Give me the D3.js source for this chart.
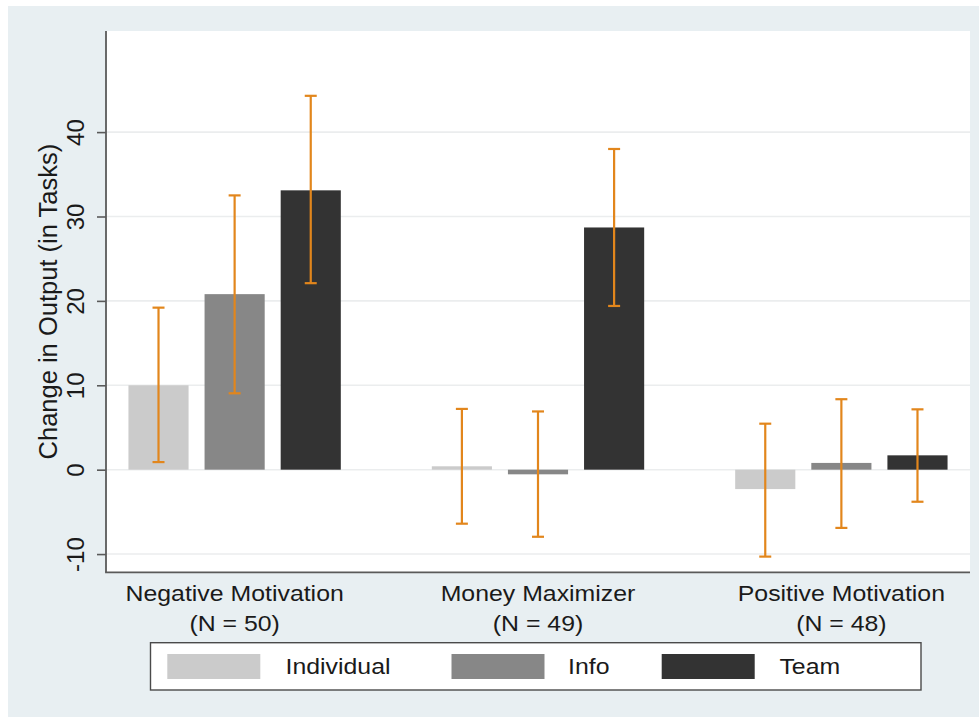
<!DOCTYPE html>
<html>
<head>
<meta charset="utf-8">
<script src="https://cdn.jsdelivr.net/npm/d3@7"></script>
<style>
  html, body { margin: 0; padding: 0; background: #ffffff; }
  svg { display: block; }
  text { font-family: "Liberation Sans", Arial, Helvetica, sans-serif; fill: #1a1a1a; }
</style>
</head>
<body>
<svg id="chart" width="979" height="718"></svg>
<script>
// Motivation types (x groups) and their sample sizes
const categories = ["Negative Motivation", "Money Maximizer", "Positive Motivation"];
const sampleSizes = ["(N = 50)", "(N = 49)", "(N = 48)"];

// Treatments shown as bars inside each group
const series = ["Individual", "Info", "Team"];

// Mean change in output, per treatment, in category order
const individualMean = [10.0, 0.4, -2.3];
const infoMean       = [20.8, -0.55, 0.8];
const teamMean       = [33.1, 28.7, 1.7];

// Confidence interval bounds (low, high) per treatment, in category order
const individualLow  = [0.9, -6.4, -10.3];
const individualHigh = [19.2, 7.2, 5.45];
const infoLow        = [9.05, -7.95, -6.9];
const infoHigh       = [32.5, 6.9, 8.35];
const teamLow        = [22.1, 19.4, -3.8];
const teamHigh       = [44.3, 38.0, 7.15];

// Y axis
const yTicks = [-10, 0, 10, 20, 30, 40];
const yDomain = [-12.16, 51.98];
const yTitle = "Change in Output (in Tasks)";

const means = { Individual: individualMean, Info: infoMean, Team: teamMean };
const lows  = { Individual: individualLow,  Info: infoLow,  Team: teamLow };
const highs = { Individual: individualHigh, Info: infoHigh, Team: teamHigh };

const colors = { Individual: "#cbcbcb", Info: "#878787", Team: "#333333" };
const errColor = "#e2861c";

const rows = [];
categories.forEach((c, i) => {
  series.forEach(s => {
    rows.push({ cat: c, ser: s, mean: means[s][i], lo: lows[s][i], hi: highs[s][i] });
  });
});

const svg = d3.select("#chart");

// Plot box
const plot = { left: 106, right: 970, top: 31, bottom: 572.3 };

// Outer panel background
svg.append("rect")
  .attr("x", 8).attr("y", 6).attr("width", 971).attr("height", 711)
  .attr("fill", "#e8eff2");

// Plot region
svg.append("rect")
  .attr("x", plot.left).attr("y", plot.top)
  .attr("width", plot.right - plot.left).attr("height", plot.bottom - plot.top)
  .attr("fill", "#ffffff");

const y = d3.scaleLinear().domain(yDomain).range([plot.bottom, plot.top]);

const x0 = d3.scaleBand()
  .domain(categories)
  .range([plot.left, plot.right])
  .paddingInner(0.3)
  .paddingOuter(0.074);

const x1 = d3.scaleBand()
  .domain(series)
  .range([0, x0.bandwidth()])
  .paddingInner(0.21)
  .paddingOuter(0);

// Horizontal grid lines
svg.append("g")
  .selectAll("line")
  .data(yTicks)
  .join("line")
  .attr("x1", plot.left).attr("x2", plot.right)
  .attr("y1", d => y(d)).attr("y2", d => y(d))
  .attr("stroke", "#ebedee")
  .attr("stroke-width", 1.6);

// Bars
svg.append("g")
  .selectAll("rect")
  .data(rows)
  .join("rect")
  .attr("x", d => x0(d.cat) + x1(d.ser))
  .attr("width", x1.bandwidth())
  .attr("y", d => y(Math.max(0, d.mean)))
  .attr("height", d => Math.abs(y(d.mean) - y(0)))
  .attr("fill", d => colors[d.ser]);

// Error bars
const capHalf = 6;
const eb = svg.append("g")
  .attr("stroke", errColor)
  .attr("stroke-width", 2.2)
  .attr("fill", "none");

const cx = d => x0(d.cat) + x1(d.ser) + x1.bandwidth() / 2;

eb.selectAll("line.stem")
  .data(rows)
  .join("line")
  .attr("class", "stem")
  .attr("x1", cx).attr("x2", cx)
  .attr("y1", d => y(d.lo)).attr("y2", d => y(d.hi));

eb.selectAll("line.capHi")
  .data(rows)
  .join("line")
  .attr("class", "capHi")
  .attr("x1", d => cx(d) - capHalf).attr("x2", d => cx(d) + capHalf)
  .attr("y1", d => y(d.hi)).attr("y2", d => y(d.hi));

eb.selectAll("line.capLo")
  .data(rows)
  .join("line")
  .attr("class", "capLo")
  .attr("x1", d => cx(d) - capHalf).attr("x2", d => cx(d) + capHalf)
  .attr("y1", d => y(d.lo)).attr("y2", d => y(d.lo));

// Y axis with vertical tick labels (plain hyphen for negatives)
const yAxis = svg.append("g")
  .attr("transform", `translate(${plot.left},0)`)
  .call(d3.axisLeft(y).tickValues(yTicks).tickSize(9).tickSizeOuter(0).tickFormat(d => String(d)));

yAxis.select(".domain").remove();
yAxis.selectAll(".tick line").attr("stroke", "#5a5a5a").attr("stroke-width", 1.6);
yAxis.selectAll(".tick text")
  .attr("transform", "rotate(-90)")
  .attr("x", 0)
  .attr("y", -22.5)
  .attr("dy", 0)
  .attr("text-anchor", "middle")
  .style("font-size", "24px")
  .style("font-family", "'Liberation Sans', Arial, sans-serif")
  .attr("fill", "#1a1a1a");

// Axis lines
svg.append("line")
  .attr("x1", plot.left).attr("x2", plot.left)
  .attr("y1", plot.top).attr("y2", plot.bottom)
  .attr("stroke", "#5a5a5a").attr("stroke-width", 1.8);
svg.append("line")
  .attr("x1", plot.left - 0.9).attr("x2", plot.right)
  .attr("y1", plot.bottom).attr("y2", plot.bottom)
  .attr("stroke", "#5a5a5a").attr("stroke-width", 1.8);

// Y axis title
svg.append("text")
  .attr("transform", `translate(56.5,${(plot.top + plot.bottom) / 2}) rotate(-90)`)
  .attr("text-anchor", "middle")
  .style("font-size", "25.5px")
  .text(yTitle);

// Horizontal labels are set slightly wide
const stretch = 1.13;
function wideText(g, x, yPos, str, size, anchor) {
  return g.append("text")
    .attr("transform", `translate(${x},${yPos}) scale(${stretch},1)`)
    .attr("text-anchor", anchor || "middle")
    .style("font-size", size + "px")
    .text(str);
}

// Category labels
const catG = svg.append("g");
categories.forEach((c, i) => {
  const mid = x0(c) + x0.bandwidth() / 2;
  wideText(catG, mid, 600.7, c, 22);
  wideText(catG, mid, 631, sampleSizes[i], 22);
});

// Legend
const legend = { x: 150.5, y: 642.7, w: 770.5, h: 47.3 };
const lg = svg.append("g");
lg.append("rect")
  .attr("x", legend.x).attr("y", legend.y)
  .attr("width", legend.w).attr("height", legend.h)
  .attr("fill", "#ffffff")
  .attr("stroke", "#4a4a4a").attr("stroke-width", 1.4);

const legendSwatchX = [167.3, 451.5, 661.7];
const legendTextX = [285.5, 568, 779.4];
series.forEach((s, i) => {
  lg.append("rect")
    .attr("x", legendSwatchX[i]).attr("y", 654)
    .attr("width", 93).attr("height", 25)
    .attr("fill", colors[s]);
  wideText(lg, legendTextX[i], 674.3, s, 22, "start");
});
</script>
</body>
</html>
